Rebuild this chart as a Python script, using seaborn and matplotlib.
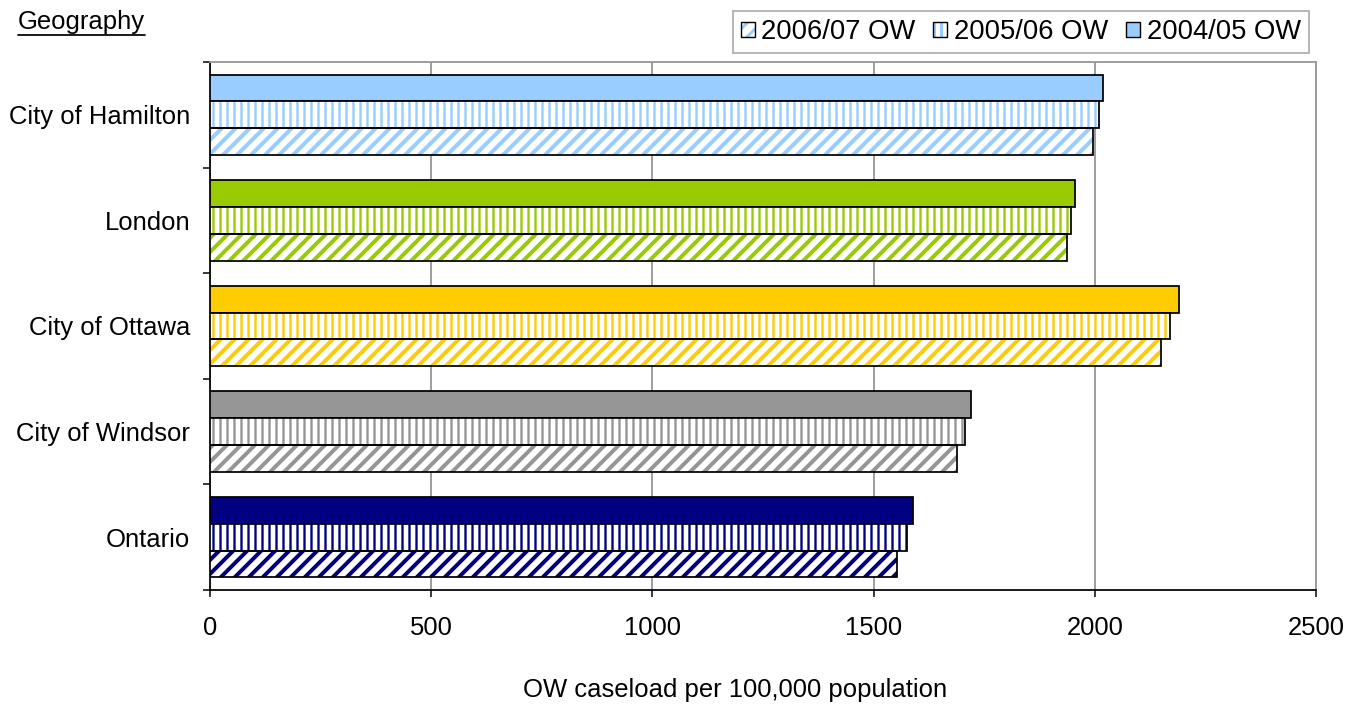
import matplotlib
matplotlib.use("Agg")
import matplotlib.pyplot as plt
import seaborn as sns
import pandas as pd
from matplotlib.patches import Rectangle, Patch
from matplotlib.legend_handler import HandlerTuple
from matplotlib.lines import Line2D

# ---------------- data ----------------
geographies = ["City of Hamilton", "London", "City of Ottawa", "City of Windsor", "Ontario"]
years = ["2004/05 OW", "2005/06 OW", "2006/07 OW"]
ow_2004_05 = [2018, 1955, 2190, 1720, 1589]
ow_2005_06 = [2010, 1946, 2170, 1707, 1575]
ow_2006_07 = [1996, 1937, 2150, 1689, 1553]
geo_colors = ["#99CCFF", "#99CC00", "#FFCC00", "#969696", "#000080"]
year_hatches = [None, "||", "//"]
x_ticks = [0, 500, 1000, 1500, 2000, 2500]
legend_order = ["2006/07 OW", "2005/06 OW", "2004/05 OW"]
x_label = "OW caseload per 100,000 population"
corner_title = "Geography"

# ---------------- style ----------------
DPI = 84
W, H = 1357, 704
sns.set_theme(style="white")
plt.rcParams["font.family"] = ["Liberation Sans", "DejaVu Sans"]
plt.rcParams["text.color"] = "black"
plt.rcParams["hatch.linewidth"] = 2.6
FS = 22
LEG_FS = 23.5
HATCH_LW = {"||": 2.0, "//": 3.4}

rows = []
for yr, vals in zip(years, [ow_2004_05, ow_2005_06, ow_2006_07]):
    for g, v in zip(geographies, vals):
        rows.append({"Geography": g, "Year": yr, "value": v})
df = pd.DataFrame(rows)

fig = plt.figure(figsize=(W / DPI, H / DPI), dpi=DPI)
ax = fig.add_axes([210 / W, 1 - 590 / H, (1316 - 210) / W, (590 - 62) / H])

sns.barplot(data=df, y="Geography", x="value", hue="Year", order=geographies,
            hue_order=years, orient="h", width=0.76, errorbar=None,
            palette=["#cccccc"] * 3, legend=False, ax=ax, zorder=3)


def style_hatched(p, color, hatch):
    p.set_facecolor("white")
    p.set_edgecolor(color)
    p.set_hatch(hatch)
    p.set_linewidth(0)
    if hasattr(p, "set_hatch_linewidth"):
        p.set_hatch_linewidth(HATCH_LW[hatch])


for h, cont in enumerate(ax.containers):
    for i, bar in enumerate(cont):
        c = geo_colors[i]
        if year_hatches[h] is None:
            bar.set_facecolor(c)
            bar.set_edgecolor("black")
            bar.set_linewidth(1.5)
        else:
            style_hatched(bar, c, year_hatches[h])
            ax.add_patch(Rectangle(bar.get_xy(), bar.get_width(), bar.get_height(),
                                   fill=False, edgecolor="black", linewidth=1.5,
                                   zorder=bar.get_zorder() + 0.1))

ax.set_xlim(0, 2500)
ax.set_xticks(x_ticks)
ax.set_xticklabels([str(t) for t in x_ticks], fontsize=FS, color="black")
ax.set_yticks(range(len(geographies)))
ax.set_yticklabels(geographies, fontsize=FS, color="black")
ax.set_yticks([i - 0.5 for i in range(len(geographies) + 1)], minor=True)
ax.tick_params(axis="y", which="major", length=0, pad=17)
ax.tick_params(axis="y", which="minor", length=6, width=1.3, color="black", direction="out", left=True)
ax.tick_params(axis="x", which="major", length=6, width=1.3, color="black", direction="out",
               bottom=True, pad=16)
ax.set_xlabel("")
ax.set_ylabel("")

ax.xaxis.grid(True, color="#999999", linewidth=1.6)
ax.yaxis.grid(False)
ax.set_axisbelow(True)
for s in ["left", "bottom"]:
    ax.spines[s].set_color("black")
    ax.spines[s].set_linewidth(1.5)
for s in ["top", "right"]:
    ax.spines[s].set_color("#999999")
    ax.spines[s].set_linewidth(1.6)

# legend
handles = []
for yr in legend_order:
    h = years.index(yr)
    c = geo_colors[0]
    if year_hatches[h] is None:
        handles.append(Patch(facecolor=c, edgecolor="black", linewidth=1.2))
    else:
        hp = Patch(facecolor="white", edgecolor=c, hatch=year_hatches[h], linewidth=0)
        if hasattr(hp, "set_hatch_linewidth"):
            hp.set_hatch_linewidth(HATCH_LW[year_hatches[h]])
        handles.append((hp, Patch(fill=False, edgecolor="black", linewidth=1.2)))
leg = fig.legend(handles, legend_order, loc="upper right",
                 bbox_to_anchor=(1309 / W, 1 - 11 / H), ncol=3, fontsize=LEG_FS,
                 handler_map={tuple: HandlerTuple(ndivide=1, pad=0)},
                 handlelength=0.5, handleheight=0.5, handletextpad=0.25,
                 columnspacing=0.65, borderpad=0.3, frameon=True, fancybox=False,
                 edgecolor="#999999", borderaxespad=0)
leg.get_frame().set_linewidth(1.5)
for txt in leg.get_texts():
    txt.set_color("black")

fig.text(735 / W, 1 - 690 / H, x_label, ha="center", va="center", fontsize=FS, color="black")
t = fig.text(18 / W, 1 - 22 / H, corner_title, ha="left", va="center", fontsize=FS, color="black")
fig.canvas.draw()
bb = t.get_window_extent()
fig.add_artist(Line2D([bb.x0 / W, bb.x1 / W], [(bb.y0 - 1) / H, (bb.y0 - 1) / H],
                      color="black", linewidth=1.5, transform=fig.transFigure))

fig.savefig("out.png", dpi=DPI)
